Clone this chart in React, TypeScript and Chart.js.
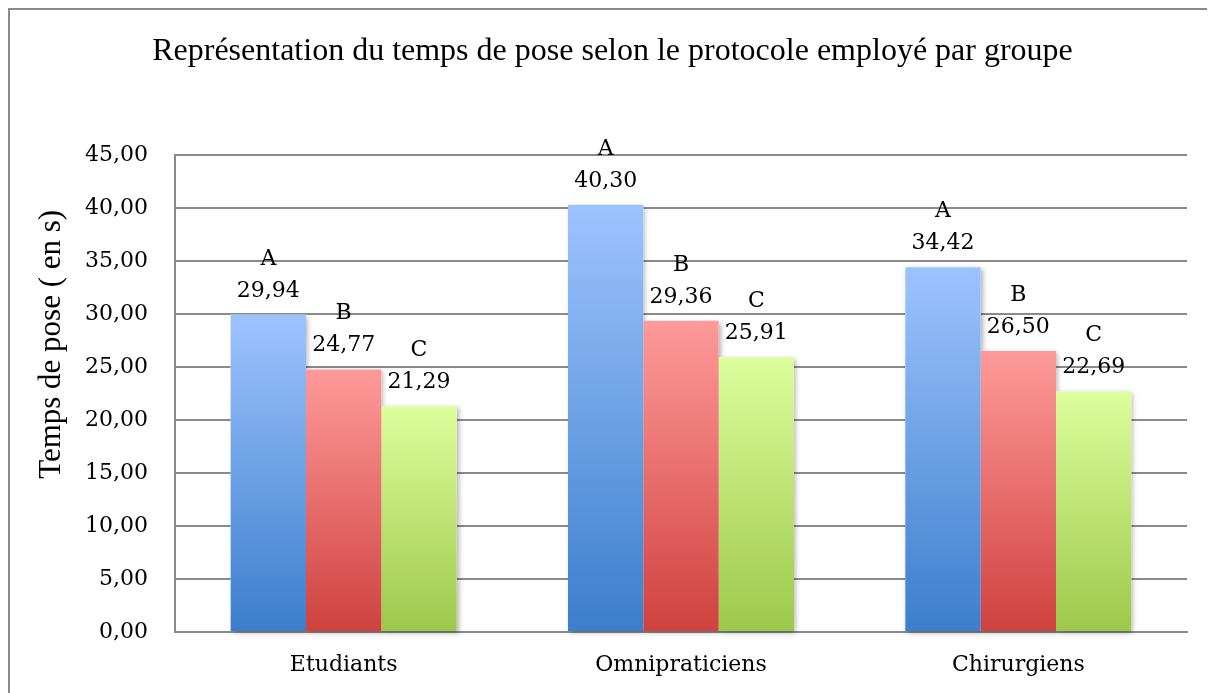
import React, { useEffect, useRef } from "react";
import { Chart, registerables } from "chart.js";

Chart.register(...registerables);

const TITLE = "Représentation du temps de pose selon le protocole employé par groupe";
const Y_TITLE = "Temps de pose ( en s)";
const categories = ["Etudiants", "Omnipraticiens", "Chirurgiens"];
const seriesNames = ["A", "B", "C"];
const seriesA = [29.94, 40.3, 34.42];
const seriesB = [24.77, 29.36, 26.5];
const seriesC = [21.29, 25.91, 22.69];
const yMin = 0;
const yMax = 45;
const yStep = 5;

const gradTop = ["#9dc3fe", "#fe9a9a", "#dcfe9c"];
const gradBottom = ["#3c7ecc", "#cf413e", "#9dc84b"];

const fmt = (v: number) => v.toFixed(2).replace(".", ",");
const LABEL_FONT = '22px "DejaVu Serif"';

function gradientFor(i: number) {
  return (ctx: any) => {
    const chart = ctx.chart;
    const area = chart.chartArea;
    if (!area || ctx.type !== "data" || !chart.scales.y) return gradTop[i];
    const y = chart.scales.y;
    const yTop = y.getPixelForValue(ctx.raw as number);
    const yBot = y.getPixelForValue(0);
    const g = chart.ctx.createLinearGradient(0, yTop, 0, yBot);
    g.addColorStop(0, gradTop[i]);
    g.addColorStop(1, gradBottom[i]);
    return g;
  };
}

// draws soft shadows for all bars first, so bars drawn afterwards cover them
const shadowPlugin = {
  id: "barShadow",
  beforeDatasetsDraw(chart: any) {
    const c = chart.ctx;
    c.save();
    c.shadowColor = "rgba(0,0,0,0.3)";
    c.shadowBlur = 5;
    c.shadowOffsetX = 2;
    c.shadowOffsetY = 2;
    c.fillStyle = "#ffffff";
    chart.data.datasets.forEach((_ds: any, i: number) => {
      const meta = chart.getDatasetMeta(i);
      meta.data.forEach((bar: any) => {
        const p = bar.getProps(["x", "y", "base", "width"], true);
        c.fillRect(p.x - p.width / 2, p.y, p.width, p.base - p.y);
      });
    });
    c.restore();
  },
};

const labelPlugin = {
  id: "barLabels",
  afterDatasetsDraw(chart: any) {
    const c = chart.ctx;
    c.save();
    c.font = LABEL_FONT;
    c.fillStyle = "#000";
    c.textAlign = "center";
    c.textBaseline = "alphabetic";
    chart.data.datasets.forEach((ds: any, i: number) => {
      const meta = chart.getDatasetMeta(i);
      meta.data.forEach((bar: any, j: number) => {
        const v = ds.data[j] as number;
        c.fillText(fmt(v), bar.x, bar.y - 18);
        c.fillText(ds.label, bar.x, bar.y - 50);
      });
    });
    c.restore();
  },
};

const yTitlePlugin = {
  id: "yTitle",
  afterDraw(chart: any) {
    const a = chart.chartArea;
    const c = chart.ctx;
    c.save();
    c.font = '31px "Liberation Serif"';
    c.fillStyle = "#000";
    c.textAlign = "center";
    c.textBaseline = "middle";
    c.translate(a.left - 123, a.top + (a.bottom - a.top) * 0.397);
    c.rotate(-Math.PI / 2);
    c.fillText(Y_TITLE, 0, 0);
    c.restore();
  },
};

export default function App() {
  const ref = useRef<HTMLCanvasElement | null>(null);

  useEffect(() => {
    document.documentElement.style.overflow = "hidden";
    document.body.style.overflow = "hidden";
    if (!ref.current) return;
    const series = [seriesA, seriesB, seriesC];
    const chart = new Chart(ref.current, {
      type: "bar",
      data: {
        labels: categories,
        datasets: series.map((d, i) => ({
          label: seriesNames[i],
          data: d,
          backgroundColor: gradientFor(i),
          borderWidth: 0,
          categoryPercentage: 0.67,
          barPercentage: 1,
        })),
      },
      options: {
        responsive: false,
        animation: false,
        layout: { padding: { top: 0, left: 28, right: 28, bottom: 0 } },
        plugins: {
          legend: { display: false },
          tooltip: { enabled: false },
          title: {
            display: true,
            text: TITLE,
            color: "#000",
            font: { family: "Liberation Serif", size: 32, weight: "normal", lineHeight: 1.2 },
            padding: { top: 22, bottom: 84.6 },
          },
        },
        scales: {
          x: {
            grid: { display: false, drawTicks: false },
            border: { display: true, color: "#8a8a8a", width: 2 },
            ticks: {
              color: "#000",
              font: { family: "DejaVu Serif", size: 22 },
              padding: 20,
            },
            afterFit: (s: any) => {
              s.height = 61;
            },
          },
          y: {
            min: yMin,
            max: yMax,
            ticks: {
              stepSize: yStep,
              color: "#000",
              font: { family: "DejaVu Serif", size: 22 },
              padding: 27,
              callback: (v: any) => fmt(Number(v)),
            },
            grid: { color: "#8a8a8a", lineWidth: 2, drawTicks: false },
            border: { display: true, color: "#8a8a8a", width: 2 },
            afterFit: (s: any) => {
              s.width = 137;
            },
          },
        },
      },
      plugins: [shadowPlugin, labelPlugin, yTitlePlugin],
    });
    return () => chart.destroy();
  }, []);

  return (
    <div
      style={{
        position: "relative",
        width: 1205,
        height: 683,
        borderTop: "2px solid #8a8a8a",
        borderLeft: "2px solid #8a8a8a",
        background: "#fff",
      }}
    >
      <canvas ref={ref} width={1205} height={683} style={{ display: "block" }} />
    </div>
  );
}
